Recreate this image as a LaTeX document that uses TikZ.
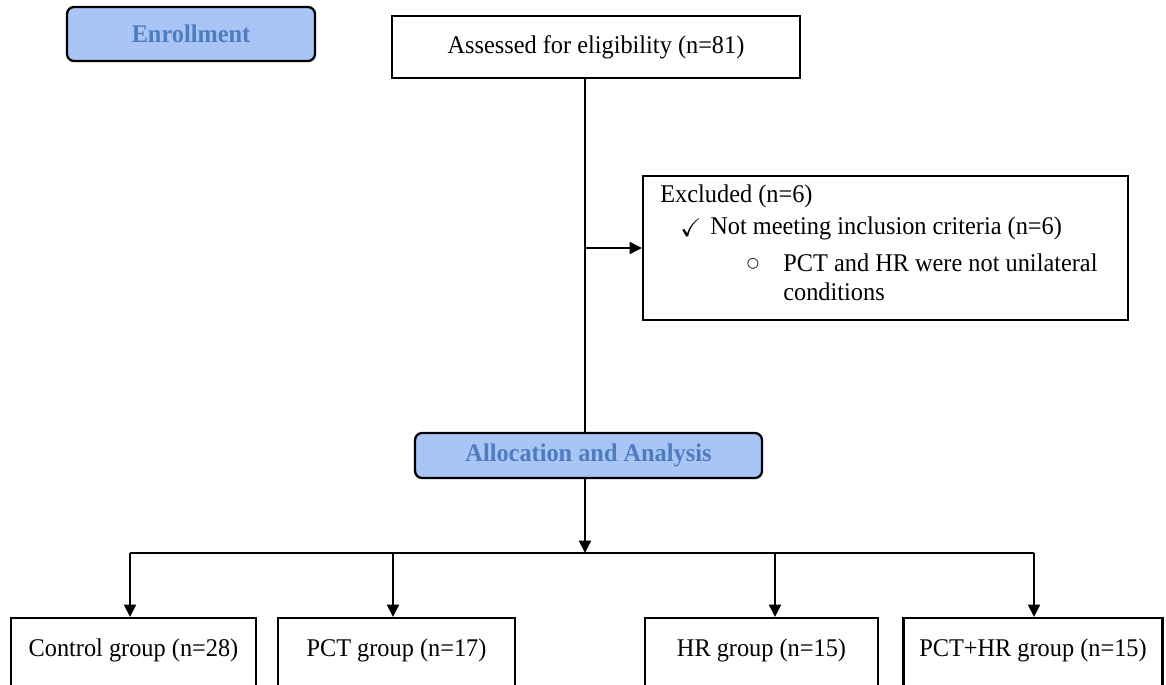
\documentclass[tikz,border=0pt]{standalone}
\usepackage{fontspec}
\usepackage{amssymb}
\setmainfont[FakeStretch=0.955]{Liberation Serif}
\newfontfamily\symfont{DejaVu Sans}
\usetikzlibrary{arrows.meta}
\definecolor{phasefill}{HTML}{A9C5F5}
\definecolor{phaseink}{HTML}{4F7CBF}

\begin{document}
\begin{tikzpicture}[x=0.02cm,y=-0.02cm,
    every node/.style={font=\fontsize{14.5}{17}\selectfont},
    phase/.style={draw,line width=1.3pt,rounded corners=4pt,fill=phasefill,
        text=phaseink,font=\fontsize{14.5}{17}\selectfont\bfseries,inner sep=0pt},
    stepbox/.style={draw,line width=1.2pt,inner sep=0pt},
    flow/.style={line width=1.2pt},
    arr/.style={flow,-{Triangle[length=2.5mm,width=2.4mm]}}]
\useasboundingbox (0,0) rectangle (1166,684);
\clip (0,0) rectangle (1166,684);

    % enrollment
    \node[phase,minimum width=4.96cm,minimum height=1.08cm] (enrol) at (191,34) {Enrollment};
    \node[stepbox,minimum width=8.16cm,minimum height=1.24cm] (assess) at (596,47) {Assessed for eligibility (n=81)};

    % excluded box and its lines
    \node[stepbox,minimum width=9.7cm,minimum height=2.88cm] (excl) at (885.5,248) {};
    \node[anchor=west,inner sep=0pt] (exclhead) at (660,196) {Excluded (n=6)};
    \node[anchor=west,inner sep=0pt] (tick) at (680,228) {$\checkmark$};
    \node[anchor=west,inner sep=0pt] (exclwhy) at (710,228) {Not meeting inclusion criteria (n=6)};
    \node[inner sep=0pt] (bullet) at (753,264) {\symfont\fontsize{8}{8}\selectfont ○};
    \node[anchor=west,inner sep=0pt] (exclnote) at (783,263) {PCT and HR were not unilateral};
    \node[anchor=west,inner sep=0pt] (exclnote2) at (783,292) {conditions};

    % allocation
    \node[phase,minimum width=6.94cm,minimum height=0.9cm] (alloc) at (588.5,455.5) {Allocation and Analysis};

    \coordinate (trunk) at (585,0);
    \coordinate (split) at (585,553);
    \draw[flow] (assess.south -| trunk) -- (alloc.north -| trunk);
    \draw[arr] (excl.west -| trunk) -- (excl.west);
    \draw[arr] (alloc.south -| split) -- (split);

    % groups
    \foreach \grp/\cx/\bw/\ax/\lbl in {ctrl/133.5/4.9/130/Control group (n=28),
            pct/396.5/4.74/393/PCT group (n=17),
            hr/761.5/4.66/775/HR group (n=15),
            both/1033/5.18/1034/PCT+HR group (n=15)}{
        \node[stepbox,anchor=north,minimum width=\bw cm,minimum height=2cm] (\grp) at (\cx,617) {};
        \node (\grp-txt) at (\cx,650) {\lbl};
        \coordinate (\grp-in) at (\ax,553);
        \draw[arr] (\grp-in) -- (\grp-in |- \grp.north);
    }
    \draw[flow] (ctrl-in) -- (both-in);

\end{tikzpicture}
\end{document}
